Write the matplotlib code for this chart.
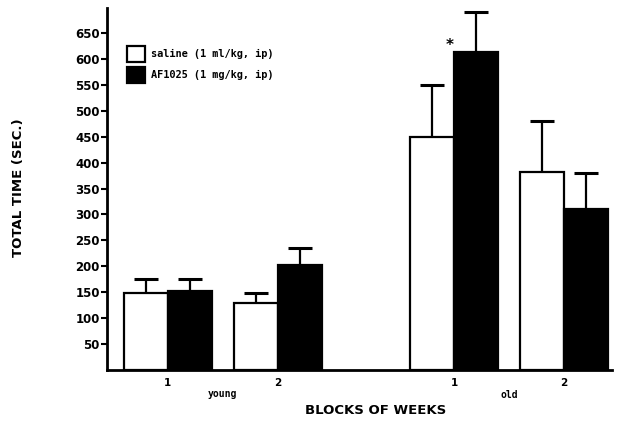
import numpy as np
import matplotlib.pyplot as plt
from matplotlib.patches import Patch

# mean total time (sec) per block of weeks, with upper error (SEM)
blocks = ['1', '2', '1', '2']
ages = ['young', 'old']
saline = [149, 130, 449, 381]
saline_err = [27, 19, 100, 99]
af1025 = [153, 203, 613, 311]
af1025_err = [23, 33, 77, 68]
yticks = [50, 100, 150, 200, 250, 300, 350, 400, 450, 500, 550, 600, 650]

pos = np.array([1, 2, 3.6, 4.6])
w = 0.4

fig = plt.figure(figsize=(6.17, 4.21), dpi=100)
ax = fig.add_axes([0.173, 0.121, 0.819, 0.86])

ekw = dict(elinewidth=1.6, capthick=2.2, ecolor='black')
b1 = ax.bar(pos - w/2, saline, w, color='white', edgecolor='black', linewidth=1.6,
            yerr=[np.zeros(4), saline_err], capsize=8.5, error_kw=ekw, zorder=2)
b2 = ax.bar(pos + w/2, af1025, w, color='black', edgecolor='black', linewidth=1.6,
            yerr=[np.zeros(4), af1025_err], capsize=8.5, error_kw=ekw, zorder=2)
# only the upper whisker gets a cap
for b in (b1, b2):
    b.errorbar.lines[1][0].set_visible(False)

# significance mark
ax.text(pos[2] - 0.04, 625, '*', fontsize=11, fontweight='bold', ha='center', va='center')

ax.set_xlim(0.445, 5.035)
ax.set_ylim(0, 698)
ax.set_yticks(yticks)
ax.set_yticklabels([str(t) for t in yticks], fontsize=8.5, fontweight='bold')
ax.set_xticks(pos)
ax.set_xticklabels(blocks, fontsize=7.5, fontweight='bold')
ax.tick_params(axis='x', length=0, pad=6)
ax.tick_params(axis='y', direction='out', length=4, width=1.5, pad=1)

for s in ['top', 'right']:
    ax.spines[s].set_visible(False)
for s in ['left', 'bottom']:
    ax.spines[s].set_linewidth(2)

# age group labels under the blocks
ax.text((pos[0] + pos[1]) / 2, -0.065, ages[0], transform=ax.get_xaxis_transform(),
        ha='center', va='center', fontsize=7, fontweight='bold', family='DejaVu Sans Mono')
ax.text((pos[2] + pos[3]) / 2, -0.068, ages[1], transform=ax.get_xaxis_transform(),
        ha='center', va='center', fontsize=7, fontweight='bold', family='DejaVu Sans Mono')

fig.text(0.608, 0.025, 'BLOCKS OF WEEKS', ha='center', va='center',
         fontsize=9.5, fontweight='bold')
fig.text(0.03, 0.555, 'TOTAL TIME (SEC.)', ha='center', va='center', rotation=90,
         fontsize=9.5, fontweight='bold')

handles = [Patch(facecolor='white', edgecolor='black', linewidth=1.6),
           Patch(facecolor='black', edgecolor='black', linewidth=1.6)]
ax.legend(handles, ['saline (1 ml/kg, ip)', 'AF1025 (1 mg/kg, ip)'],
          loc='upper left', bbox_to_anchor=(0.022, 0.92), frameon=False,
          handlelength=1.7, handleheight=2.0, handletextpad=0.6, labelspacing=0.45,
          prop=dict(family='DejaVu Sans Mono', weight='bold', size=7.4))

fig.savefig('out.png', dpi=100)
